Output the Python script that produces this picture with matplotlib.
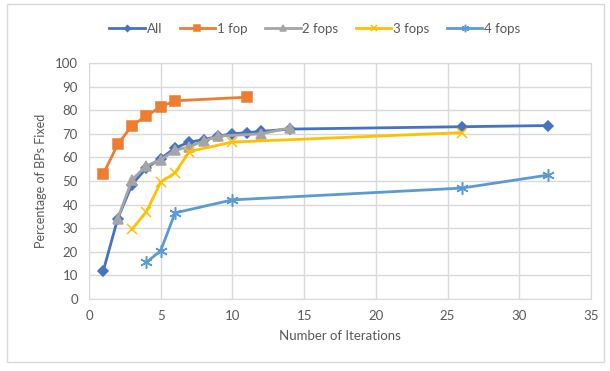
import matplotlib
matplotlib.use("Agg")
import matplotlib.pyplot as plt
from matplotlib.patches import Rectangle

plt.rcParams['font.family'] = ['Lato', 'DejaVu Sans']

# data
all_x = [1, 2, 3, 4, 5, 6, 7, 8, 9, 10, 11, 12, 14, 26, 32]
all_y = [12, 34, 48.5, 55.5, 59.5, 64, 66.5, 67.5, 69, 70, 70.5, 71, 72, 73, 73.5]

fop1_x = [1, 2, 3, 4, 5, 6, 11]
fop1_y = [53, 65.5, 73.5, 77.5, 81.5, 84, 85.5]

fop2_x = [2, 3, 4, 5, 6, 7, 8, 9, 12, 14]
fop2_y = [34, 50.5, 56.5, 59, 63, 64.5, 67, 69, 70, 72.5]

fop3_x = [3, 4, 5, 6, 7, 10, 26]
fop3_y = [29.5, 37, 49.5, 53.5, 62.5, 66.5, 70.5]

fop4_x = [4, 5, 6, 10, 26, 32]
fop4_y = [15.5, 20.5, 36.5, 42, 47, 52.5]

series = [
    ("All", all_x, all_y, "#4472C4", "D", 5),
    ("1 fop", fop1_x, fop1_y, "#ED7D31", "s", 7),
    ("2 fops", fop2_x, fop2_y, "#A5A5A5", "^", 7),
    ("3 fops", fop3_x, fop3_y, "#FFC000", "x", 7),
    ("4 fops", fop4_x, fop4_y, "#5B9BD5", (6, 2, 0), 9),
]

fig = plt.figure(figsize=(6.1, 3.71), dpi=100)
ax = fig.add_axes([89 / 610, 1 - 299 / 371, (591 - 89) / 610, (299 - 63) / 371])

for name, xs, ys, c, m, ms in series:
    ax.plot(xs, ys, color=c, lw=2, marker=m, markersize=ms,
            markeredgecolor=c, markerfacecolor=c, markeredgewidth=1.1, label=name)

ax.set_xlim(0, 35)
ax.set_ylim(0, 100)
ax.set_xticks(range(0, 36, 5))
ax.set_yticks(range(0, 101, 10))
ax.grid(True, color="#D9D9D9", lw=1)
ax.set_axisbelow(True)
for s in ax.spines.values():
    s.set_color("#D9D9D9")
ax.tick_params(length=0, colors="#595959", labelsize=9.5, pad=8)
ax.set_xlabel("Number of Iterations", color="#595959", fontsize=9.5, labelpad=6)
ax.set_ylabel("Percentage of BPs Fixed", color="#595959", fontsize=9, labelpad=6)

fig.legend(loc="center", bbox_to_anchor=(315 / 610, 1 - 29 / 371), ncol=5, frameon=False,
           fontsize=9.5, handlelength=2.7, columnspacing=1.3, handletextpad=0.15,
           labelcolor="#595959", markerscale=0.6)

fig.patches.append(Rectangle((7 / 610, 0.025), 1 - 13 / 610, 0.965, transform=fig.transFigure,
                             fill=False, edgecolor="#D9D9D9", lw=1))

fig.savefig("out.png", dpi=100)
